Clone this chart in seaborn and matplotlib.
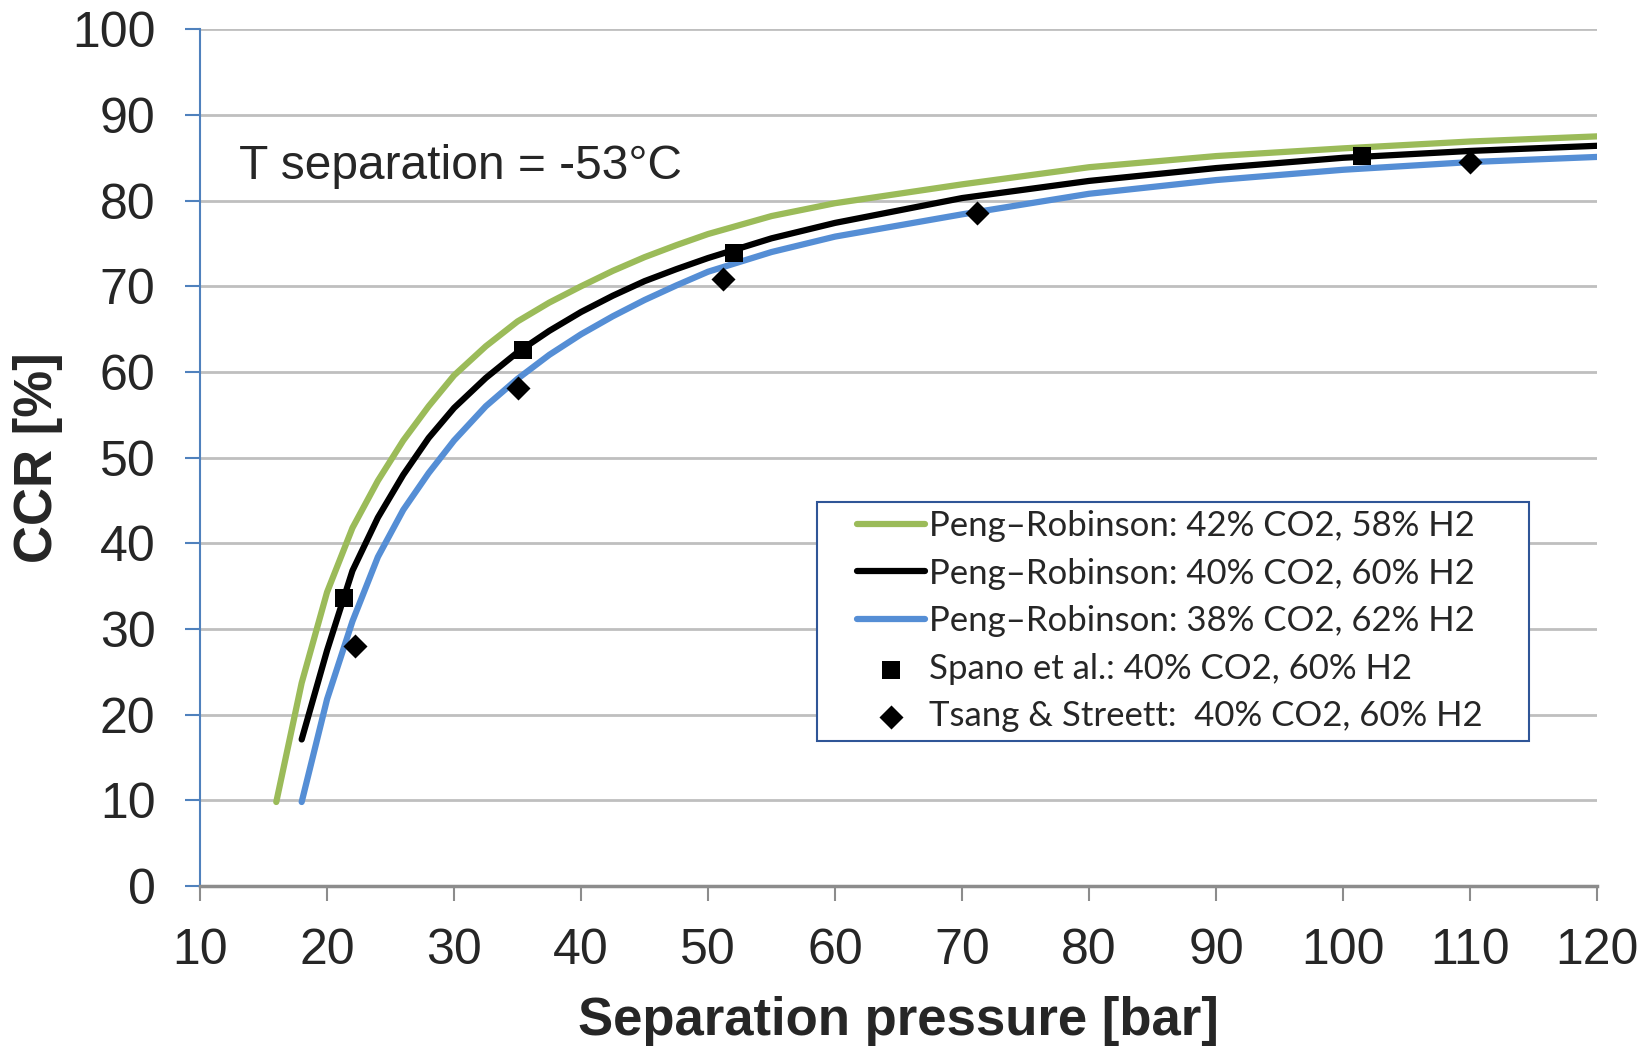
import matplotlib
matplotlib.use("Agg")
import matplotlib.pyplot as plt
from matplotlib.patches import Rectangle
import seaborn as sns
import pandas as pd

# Peng-Robinson curves
p_42 = [16, 18, 20, 22, 24, 26, 28, 30, 32.5, 35, 37.5, 40, 42.5, 45, 47.5, 50, 55, 60, 70, 80, 90, 100, 110, 120]
ccr_42 = [9.8, 23.7, 34.3, 41.8, 47.3, 52.0, 56.0, 59.6, 63.0, 65.9, 68.1, 70.0, 71.8, 73.4, 74.8, 76.1, 78.2, 79.7, 81.9, 83.9, 85.2, 86.1, 86.9, 87.5]

p_40 = [18, 20, 22, 24, 26, 28, 30, 32.5, 35, 37.5, 40, 42.5, 45, 47.5, 50, 55, 60, 70, 80, 90, 100, 110, 120]
ccr_40 = [17.1, 27.5, 36.8, 43.0, 48.0, 52.3, 55.8, 59.3, 62.3, 64.8, 67.0, 68.9, 70.6, 72.0, 73.3, 75.6, 77.4, 80.3, 82.3, 83.8, 85.0, 85.8, 86.4]

p_38 = [18, 20, 22, 24, 26, 28, 30, 32.5, 35, 37.5, 40, 42.5, 45, 47.5, 50, 55, 60, 70, 80, 90, 100, 110, 120]
ccr_38 = [9.8, 21.8, 30.9, 38.4, 43.9, 48.2, 52.0, 56.0, 59.2, 62.0, 64.4, 66.5, 68.4, 70.1, 71.7, 74.0, 75.8, 78.4, 80.8, 82.4, 83.6, 84.5, 85.1]

# experimental points
spano_p = [21.3, 35.4, 52.05, 101.5]
spano_ccr = [33.6, 62.6, 73.9, 85.2]
tsang_p = [22.2, 35.0, 51.2, 71.2, 110.0]
tsang_ccr = [28.0, 58.1, 70.9, 78.5, 84.5]

labels = ["Peng\u2013Robinson: 42% CO2, 58% H2",
          "Peng\u2013Robinson: 40% CO2, 60% H2",
          "Peng\u2013Robinson: 38% CO2, 62% H2",
          "Spano et al.: 40% CO2, 60% H2",
          "Tsang & Streett:  40% CO2, 60% H2"]

GREEN = "#9BBB59"
BLUE = "#558ED5"

sns.set_theme(style="white")
plt.rcParams['font.family'] = ['Liberation Sans', 'DejaVu Sans']

fig = plt.figure(figsize=(16.48, 10.46), dpi=100)
ax = fig.add_axes([0.1214, 0.153, 0.8477, 0.819])

df42 = pd.DataFrame({"p": p_42, "ccr": ccr_42})
df40 = pd.DataFrame({"p": p_40, "ccr": ccr_40})
df38 = pd.DataFrame({"p": p_38, "ccr": ccr_38})

sns.lineplot(data=df42, x="p", y="ccr", color=GREEN, lw=4.5, label=labels[0], ax=ax,
             solid_capstyle="round", solid_joinstyle="round", zorder=3)
sns.lineplot(data=df40, x="p", y="ccr", color="black", lw=4.5, label=labels[1], ax=ax,
             solid_capstyle="round", solid_joinstyle="round", zorder=3)
sns.lineplot(data=df38, x="p", y="ccr", color=BLUE, lw=4.5, label=labels[2], ax=ax,
             solid_capstyle="round", solid_joinstyle="round", zorder=3)
sns.scatterplot(x=spano_p, y=spano_ccr, marker="s", color="black", s=150, linewidth=0,
                label=labels[3], ax=ax, zorder=4)
sns.scatterplot(x=tsang_p, y=tsang_ccr, marker="D", color="black", s=150, linewidth=0,
                label=labels[4], ax=ax, zorder=4)

ax.set_xlim(10, 120)
ax.set_ylim(0, 100)
ax.set_xticks(range(10, 121, 10))
ax.set_yticks(range(0, 101, 10))
ax.yaxis.grid(True, color="#BFBFBF", lw=2)
ax.xaxis.grid(False)
ax.set_axisbelow(True)

for s in ["top", "right"]:
    ax.spines[s].set_visible(False)
ax.spines["left"].set_color("#4F81BD")
ax.spines["left"].set_linewidth(1.5)
ax.spines["bottom"].set_color("#8C8C8C")
ax.spines["bottom"].set_linewidth(2.5)

ax.tick_params(axis="y", direction="out", length=11, width=1.5, color="#4F81BD",
               labelsize=36, pad=21, left=True)
ax.tick_params(axis="x", direction="out", length=11, width=1.5, color="#8C8C8C",
               labelsize=36, pad=19, bottom=True)

ax.set_xlabel("Separation pressure [bar]", fontsize=38, fontweight="bold")
ax.set_ylabel("CCR [%]", fontsize=38, fontweight="bold")
ax.xaxis.set_label_coords(0.5, -0.128)
ax.yaxis.set_label_coords(-0.098, 0.5)

ax.text(13.1, 84.0, "T separation = -53\u00b0C", fontsize=34.5, va="center", ha="left")

# legend box (Excel style, extra space on the left)
box = Rectangle((0.4417, 0.169), 0.5097, 0.279, transform=ax.transAxes,
                facecolor="white", edgecolor="#2F5597", lw=1.5, zorder=5)
ax.add_patch(box)
leg = ax.legend(loc="upper left", bbox_to_anchor=(0.470, 0.439), borderaxespad=0,
                frameon=False, prop={"family": "Lato", "size": 25},
                handlelength=1.96, handletextpad=0.12, labelspacing=0.45,
                borderpad=0)
leg.set_zorder(6)

fig.savefig("out.png", dpi=100)
